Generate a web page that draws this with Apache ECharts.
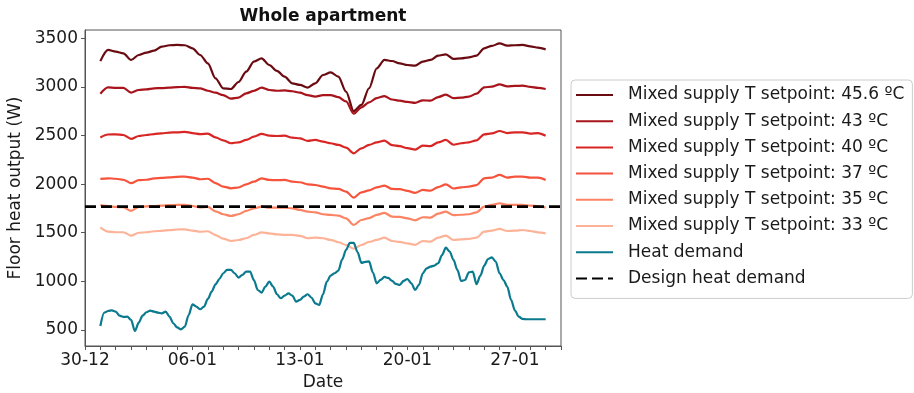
<!DOCTYPE html>
<html><head><meta charset="utf-8">
<script src="https://cdn.jsdelivr.net/npm/echarts@6/dist/echarts.min.js"></script>
<style>html,body{margin:0;padding:0;background:#fff}#c{width:914px;height:393px}</style>
</head><body><div id="c"></div>
<script>
// ---- data ----
const DAY = 86400000;
const axisStart = Date.UTC(2018, 11, 30);
const axisEnd = Date.UTC(2019, 0, 30);
const seriesStart = Date.UTC(2018, 11, 31);
const setpointStepHours = 12;
const demandStepHours = 6;
const tickLabelDates = ['2018-12-30', '2019-01-06', '2019-01-13', '2019-01-20', '2019-01-27'];
const yTicks = [500, 1000, 1500, 2000, 2500, 3000, 3500];
const designHeatDemand = 1768;

const names = [
  'Mixed supply T setpoint: 45.6 ºC',
  'Mixed supply T setpoint: 43 ºC',
  'Mixed supply T setpoint: 40 ºC',
  'Mixed supply T setpoint: 37 ºC',
  'Mixed supply T setpoint: 35 ºC',
  'Mixed supply T setpoint: 33 ºC',
  'Heat demand',
  'Design heat demand'
];

const sp456 = [3265, 3380, 3362, 3345, 3277, 3328, 3352, 3373, 3414, 3428, 3431, 3428, 3397, 3328, 3242, 3088, 2985, 2978, 3050,
  3157, 3260, 3294, 3225, 3164, 3105, 3037, 3020, 2992, 3037, 3122, 3150, 3105, 2951, 2750, 2814, 2986, 3191, 3277, 3266,
  3242, 3225, 3218, 3259, 3277, 3321, 3335, 3287, 3294, 3304, 3321, 3397, 3421, 3448, 3424, 3428, 3431, 3417, 3403, 3386];
const sp43 = [2930, 2995, 2990, 2990, 2940, 2968, 2975, 2985, 2988, 2992, 2997, 3000, 2990, 2985, 2960, 2940, 2915, 2880, 2890,
  2934, 2958, 2992, 2968, 2960, 2964, 2955, 2940, 2915, 2900, 2915, 2915, 2895, 2850, 2725, 2790, 2840, 2885, 2905, 2870,
  2858, 2845, 2835, 2862, 2858, 2895, 2920, 2885, 2889, 2900, 2930, 2995, 3002, 3026, 3005, 3010, 3012, 3000, 2990, 2978];
const sp40 = [2480, 2510, 2512, 2505, 2465, 2495, 2505, 2515, 2522, 2530, 2533, 2538, 2525, 2515, 2520, 2480, 2450, 2420, 2430,
  2454, 2488, 2516, 2498, 2495, 2498, 2478, 2471, 2444, 2454, 2437, 2420, 2403, 2375, 2317, 2368, 2403, 2430, 2448, 2400,
  2390, 2370, 2355, 2396, 2390, 2430, 2454, 2405, 2420, 2430, 2450, 2512, 2522, 2546, 2525, 2533, 2533, 2520, 2525, 2498];
const sp37 = [2053, 2060, 2055, 2045, 2010, 2040, 2045, 2058, 2065, 2070, 2075, 2077, 2067, 2050, 2055, 2010, 1975, 1957, 1965,
  1998, 2025, 2060, 2043, 2040, 2043, 2025, 2019, 1998, 1991, 1974, 1957, 1950, 1923, 1861, 1916, 1935, 1967, 1985, 1950,
  1948, 1930, 1910, 1940, 1933, 1970, 1998, 1955, 1967, 1974, 1990, 2060, 2067, 2094, 2067, 2077, 2077, 2067, 2067, 2043];
const sp35 = [1785, 1775, 1765, 1762, 1725, 1765, 1772, 1775, 1779, 1783, 1786, 1786, 1775, 1760, 1765, 1720, 1690, 1672, 1690,
  1724, 1751, 1768, 1758, 1758, 1758, 1751, 1734, 1717, 1710, 1690, 1683, 1676, 1648, 1580, 1631, 1650, 1683, 1705, 1665,
  1662, 1648, 1628, 1659, 1655, 1696, 1717, 1680, 1685, 1690, 1710, 1768, 1786, 1803, 1786, 1786, 1786, 1779, 1775, 1758];
const sp33 = [1555, 1512, 1505, 1505, 1470, 1500, 1505, 1515, 1520, 1527, 1533, 1535, 1522, 1510, 1515, 1475, 1440, 1415, 1425,
  1443, 1477, 1504, 1494, 1484, 1477, 1477, 1467, 1443, 1450, 1443, 1426, 1402, 1374, 1335, 1374, 1405, 1426, 1450, 1415,
  1405, 1390, 1375, 1415, 1408, 1450, 1470, 1425, 1432, 1436, 1450, 1511, 1521, 1539, 1518, 1521, 1528, 1518, 1504, 1494];
const heatDemand = [540, 678, 695, 702, 689, 647, 634, 637, 603, 490, 575, 647, 682, 699, 689, 678, 671, 689, 637, 569,
  527, 505, 534, 654, 764, 740, 713, 740, 819, 894, 970, 1024, 1083, 1117, 1117, 1083, 1038,
  1066, 1100, 1100, 1014, 911, 884, 946, 997, 946, 867, 826, 853, 877, 853, 791, 809, 843, 867, 833, 774,
  757, 867, 997, 1059, 1083, 1110, 1225, 1323, 1395, 1395, 1300, 1190, 1200, 1205, 1090, 980, 1015, 1045, 1035, 1005,
  973, 963, 1004, 1024, 980, 911, 963, 1083, 1134, 1151, 1162, 1186, 1271, 1347, 1306, 1220, 1117, 1004, 1014, 1093,
  1100, 970, 1059, 1162, 1230, 1247, 1203, 1083, 1014, 946, 809, 700, 637, 613, 610, 610, 610, 610, 610, 610];

const colors = ['#6a0b12', '#a8141b', '#d82624', '#f6533c', '#fb8464', '#fcb398', '#0b7a8e', '#000000'];

// ---- build ----
const toPairs = (arr, stepH) => arr.map((v, i) => [seriesStart + i * stepH * 3600000, v]);
const parseDate = s => { const p = s.split('-').map(Number); return Date.UTC(p[0], p[1] - 1, p[2]); };
const labelValues = tickLabelDates.map(parseDate);
const dayTicks = [];
for (let t = axisStart; t <= axisEnd; t += DAY) dayTicks.push(t);
const pad = n => (n < 10 ? '0' : '') + n;
const FONT = 'DejaVu Sans';
const TXT = '#1a1a1a';
const AX = '#555';

const setpoints = [sp456, sp43, sp40, sp37, sp35, sp33];
const series = setpoints.map((arr, i) => ({
  name: names[i], type: 'line', data: toPairs(arr, setpointStepHours),
  symbol: 'none', smooth: 0.3, smoothMonotone: 'x',
  lineStyle: { color: colors[i], width: 2.2 }, itemStyle: { color: colors[i] }
}));
series.push({
  name: names[6], type: 'line', data: toPairs(heatDemand, demandStepHours),
  symbol: 'none', smooth: 0.3, smoothMonotone: 'x',
  lineStyle: { color: colors[6], width: 2.2 }, itemStyle: { color: colors[6] }
});
series.push({
  name: names[7], type: 'line', data: [[axisStart, designHeatDemand], [axisEnd, designHeatDemand]],
  symbol: 'none',
  lineStyle: { color: colors[7], width: 2.7, type: [11, 5] }, itemStyle: { color: colors[7] }
});

const chart = echarts.init(document.getElementById('c'), null, { renderer: 'canvas' });
chart.setOption({
  animation: false,
  backgroundColor: '#fff',
  title: {
    text: 'Whole apartment', left: 323, top: 8, textAlign: 'center', padding: 0,
    textStyle: { fontFamily: FONT, fontWeight: 'bold', fontSize: 17, color: '#111' }
  },
  grid: {
    left: 85, right: 353, top: 30, bottom: 47, containLabel: false, outerBoundsMode: 'none',
    show: true, borderColor: AX, borderWidth: 1, backgroundColor: 'transparent'
  },
  legend: {
    orient: 'vertical', left: 571, top: 80,
    padding: [5, 8, 10, 4],
    itemWidth: 37, itemHeight: 14, itemGap: 6.2,
    itemStyle: { opacity: 0 },
    backgroundColor: '#fff', borderColor: '#cccccc', borderWidth: 1, borderRadius: 4,
    textStyle: { fontFamily: FONT, fontSize: 17, color: TXT, lineHeight: 20, padding: [0, 0, 0, 10] },
    data: names
  },
  xAxis: {
    type: 'value', min: axisStart, max: axisEnd,
    name: 'Date', nameLocation: 'middle', nameGap: 27,
    nameTextStyle: { fontFamily: FONT, fontSize: 17, color: TXT },
    axisLine: { show: true, lineStyle: { color: AX, width: 1 } },
    axisTick: { show: true, customValues: dayTicks, length: 4, lineStyle: { color: AX } },
    axisLabel: {
      customValues: labelValues, margin: 6, fontFamily: FONT, fontSize: 17, color: TXT,
      formatter: v => { const d = new Date(v); return pad(d.getUTCDate()) + '-' + pad(d.getUTCMonth() + 1); }
    },
    splitLine: { show: false }
  },
  yAxis: {
    type: 'value', min: 335, max: 3585,
    name: 'Floor heat output (W)', nameLocation: 'middle', nameGap: 54,
    nameTextStyle: { fontFamily: FONT, fontSize: 17, color: TXT },
    axisLine: { show: true, lineStyle: { color: AX, width: 1 } },
    axisTick: { show: true, customValues: yTicks, length: 4, lineStyle: { color: AX } },
    axisLabel: { customValues: yTicks, margin: 7, fontFamily: FONT, fontSize: 17, color: TXT, formatter: v => String(v) },
    splitLine: { show: false }
  },
  series: series
});
</script>
</body></html>
